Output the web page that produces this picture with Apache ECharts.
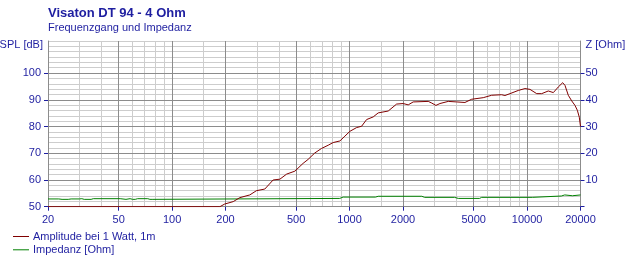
<!DOCTYPE html>
<html><head><meta charset="utf-8">
<script src="https://cdn.jsdelivr.net/npm/echarts@6/dist/echarts.min.js"></script>
<style>html,body{margin:0;padding:0;background:#fff}#c{width:629px;height:273px}</style>
</head><body><div id="c"></div>
<script>
// ---- data ----
const freqTicks = [20, 50, 100, 200, 500, 1000, 2000, 5000, 10000, 20000];
const freqMinor = [30, 40, 60, 70, 80, 90, 150, 300, 400, 600, 700, 800, 900, 1500, 3000, 4000, 6000, 7000, 8000, 9000, 15000];
const splTicks = [50, 60, 70, 80, 90, 100];
const splMinor = [52, 54, 56, 58, 62, 64, 66, 68, 72, 74, 76, 78, 82, 84, 86, 88, 92, 94, 96, 98, 102, 104, 106, 108, 110, 112];
const zTicks = [0, 10, 20, 30, 40, 50];
const zLabels = [10, 20, 30, 40, 50];

const splFreq = [20, 186, 198, 221, 241, 274, 299, 333, 371, 405, 442, 492, 547, 584, 637, 695, 758, 808, 882, 941, 1004, 1095, 1169, 1247, 1359, 1450, 1651, 1841, 2005, 2140, 2283, 2775, 2900, 3066, 3229, 3596, 4009, 4467, 4872, 5664, 6315, 7190, 7506, 8011, 8923, 9733, 10385, 11330, 12090, 13170, 14060, 14995, 15875, 16355, 17070, 17840, 18620, 19190, 19690, 20000];
const splDb = [50, 50, 51, 51.9, 53.4, 54.4, 56, 56.6, 60, 60.3, 62.2, 63.3, 66.2, 67.7, 70.1, 71.8, 73, 74, 74.6, 76.4, 78.2, 79.6, 80.1, 82.6, 83.6, 85.1, 85.8, 88.4, 88.6, 88.1, 89.2, 89.4, 88.8, 87.9, 88.6, 89.4, 89.2, 89, 90.2, 90.8, 91.7, 91.9, 91.6, 92.3, 93.5, 94.2, 93.9, 92.3, 92.3, 93.3, 92.7, 94.8, 96.4, 95.4, 91.7, 89.6, 87.9, 86.1, 83.5, 80];

const impFreq = [20, 23, 24, 26, 27, 30, 31, 32, 35, 36, 51, 52, 55, 56, 58, 60, 62, 64, 73, 75, 78, 80, 880, 920, 1400, 1450, 2550, 2650, 3900, 4100, 5400, 5550, 10700, 10900, 15600, 15900, 16300, 16700, 18000, 18300, 20000];
const impOhm = [2.9, 2.9, 2.75, 2.75, 2.9, 2.9, 3.0, 2.75, 2.75, 3.0, 3.0, 2.75, 2.75, 3.0, 3.0, 2.75, 2.75, 3.0, 3.0, 2.75, 2.75, 3.0, 3.1, 3.6, 3.6, 3.9, 3.9, 3.5, 3.5, 3.1, 3.1, 3.5, 3.5, 4.0, 4.0, 4.4, 4.4, 4.1, 4.1, 4.4, 4.4];

// ---- style ----
const BLUE = '#1e1ea0';
const FONT = 'Liberation Sans';
const DARK = '#8c8c8c';
const LIGHT = '#cdcdcd';

const chart = echarts.init(document.getElementById('c'), null, {renderer: 'canvas'});
chart.setOption({
  animation: false,
  backgroundColor: '#fff',
  title: {
    text: 'Visaton DT 94 - 4 Ohm',
    subtext: 'Frequenzgang und Impedanz',
    left: 43, top: 2, itemGap: 2,
    textStyle: {color: BLUE, fontFamily: FONT, fontSize: 13, fontWeight: 'bold'},
    subtextStyle: {color: BLUE, fontFamily: FONT, fontSize: 11}
  },
  legend: {
    orient: 'vertical', left: 8, top: 226,
    icon: 'rect', itemWidth: 16, itemHeight: 1, itemGap: 2.3,
    textStyle: {color: BLUE, fontFamily: FONT, fontSize: 11, padding: [0, 0, 0, -1]},
    data: ['Amplitude bei 1 Watt, 1m', 'Impedanz [Ohm]']
  },
  grid: {left: 48, right: 48.5, top: 41, bottom: 66.3, outerBoundsMode: 'none'},
  xAxis: [
    {
      type: 'log', logBase: 10, min: 20, max: 20000, position: 'bottom',
      axisLine: {show: true, lineStyle: {color: DARK, width: 1}},
      axisTick: {show: true, customValues: freqTicks, length: 4, lineStyle: {color: BLUE}},
      axisLabel: {customValues: freqTicks, color: BLUE, fontFamily: FONT, fontSize: 11, margin: 8,
                  formatter: v => String(Math.round(v))},
      splitLine: {show: true, lineStyle: {color: DARK, width: 1}},
      z: 2
    },
    {
      type: 'log', logBase: 10, min: 20, max: 20000, position: 'top',
      axisLine: {show: false},
      axisTick: {show: false, customValues: freqMinor},
      axisLabel: {show: false, customValues: freqMinor},
      splitLine: {show: true, lineStyle: {color: LIGHT, width: 1}},
      z: 1
    }
  ],
  yAxis: [
    {
      type: 'value', min: 50, max: 112, position: 'left',
      name: 'SPL [dB]', nameLocation: 'end', nameGap: -4,
      nameTextStyle: {color: BLUE, fontFamily: FONT, fontSize: 11, align: 'right', verticalAlign: 'middle', padding: [0, 5, 0, 0]},
      axisLine: {show: true, lineStyle: {color: DARK}},
      axisTick: {show: true, customValues: splTicks, length: 4, lineStyle: {color: BLUE}},
      axisLabel: {customValues: splTicks, color: BLUE, fontFamily: FONT, fontSize: 11, margin: 7},
      splitLine: {show: true, lineStyle: {color: DARK, width: 1}},
      z: 2
    },
    {
      type: 'value', min: 0, max: 62, position: 'right',
      name: 'Z [Ohm]', nameLocation: 'end', nameGap: -4,
      nameTextStyle: {color: BLUE, fontFamily: FONT, fontSize: 11, align: 'left', verticalAlign: 'middle', padding: [0, 0, 0, 5]},
      axisLine: {show: true, lineStyle: {color: DARK}},
      axisTick: {show: true, customValues: zTicks, length: 4, lineStyle: {color: BLUE}},
      axisLabel: {customValues: zLabels, color: BLUE, fontFamily: FONT, fontSize: 11, margin: 5},
      splitLine: {show: false},
      z: 2
    },
    {
      type: 'value', min: 50, max: 112, position: 'left',
      axisLine: {show: false},
      axisTick: {show: false, customValues: splMinor},
      axisLabel: {show: false, customValues: splMinor},
      splitLine: {show: true, lineStyle: {color: LIGHT, width: 1}},
      z: 1
    }
  ],
  series: [
    {
      name: 'Amplitude bei 1 Watt, 1m', type: 'line', xAxisIndex: 0, yAxisIndex: 0,
      symbol: 'none', z: 5,
      lineStyle: {color: '#800000', width: 1}, itemStyle: {color: '#800000'},
      data: splFreq.map((f, i) => [f, splDb[i]])
    },
    {
      name: 'Impedanz [Ohm]', type: 'line', xAxisIndex: 0, yAxisIndex: 1,
      symbol: 'none', z: 4,
      lineStyle: {color: '#008000', width: 1}, itemStyle: {color: '#008000'},
      data: impFreq.map((f, i) => [f, impOhm[i]])
    }
  ]
});
</script>
</body></html>
